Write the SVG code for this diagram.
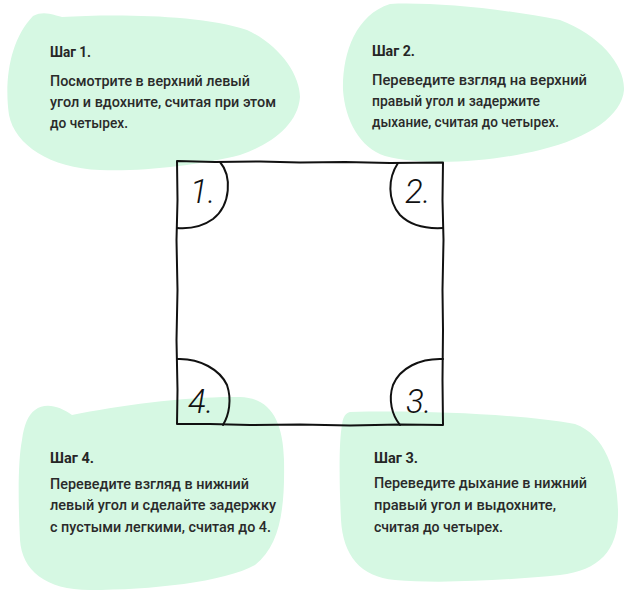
<svg xmlns="http://www.w3.org/2000/svg" width="627" height="593" viewBox="0 0 627 593">
<style>
.blob{fill:#d6f8e3;stroke:none}
.h{font-family:Roboto,"Noto Sans","Liberation Sans",sans-serif;font-size:15.5px;font-weight:700;fill:#262626}
.t{font-family:Roboto,"Noto Sans","Liberation Sans",sans-serif;font-size:15px;font-weight:500;fill:#2a2a2a}
.ln{fill:none;stroke:#111;stroke-width:2;stroke-linecap:round;stroke-linejoin:round}
.num{font-family:Roboto,"Open Sans","DejaVu Sans",sans-serif;font-size:33px;font-weight:300;font-style:italic;fill:#111}
</style>
<rect width="627" height="593" fill="#fff"/>
<g id="step1">
<path class="blob" d="M33,16 C45,10 55,16 62,17 C110,14 200,14 247,30 C280,45 300,75 300,97 C298,125 270,145 240,155 C200,165 140,172 100,170 C50,168 15,145 9,115 C4,80 10,40 33,16 Z"/>
<text class="h" x="50" y="57" textLength="41" lengthAdjust="spacingAndGlyphs">Шаг 1.</text>
<text class="t" x="50" y="86" textLength="200" lengthAdjust="spacingAndGlyphs">Посмотрите в верхний левый</text>
<text class="t" x="50" y="107" textLength="226" lengthAdjust="spacingAndGlyphs">угол и вдохните, считая при этом</text>
<text class="t" x="50" y="128" textLength="78" lengthAdjust="spacingAndGlyphs">до четырех.</text>
</g>
<g id="step2">
<path class="blob" d="M390,4 C430,2 500,8 560,20 C600,35 625,65 624,90 C622,115 590,138 540,150 C500,160 430,168 385,156 C360,148 345,120 343,90 C342,55 355,15 390,4 Z"/>
<text class="h" x="372" y="56" textLength="43" lengthAdjust="spacingAndGlyphs">Шаг 2.</text>
<text class="t" x="372" y="85" textLength="215" lengthAdjust="spacingAndGlyphs">Переведите взгляд на верхний</text>
<text class="t" x="372" y="106" textLength="168" lengthAdjust="spacingAndGlyphs">правый угол и задержите</text>
<text class="t" x="372" y="127" textLength="187" lengthAdjust="spacingAndGlyphs">дыхание, считая до четырех.</text>
</g>
<g id="step4">
<path class="blob" d="M35,410 C45,402 60,406 72,415 C120,405 190,396 240,397 C270,398 283,420 284,460 C285,510 280,545 255,565 C225,582 150,590 90,590 C45,590 22,570 20,540 C18,500 18,460 22,440 C24,425 28,415 35,410 Z"/>
<text class="h" x="50" y="463" textLength="44" lengthAdjust="spacingAndGlyphs">Шаг 4.</text>
<text class="t" x="50" y="489" textLength="199" lengthAdjust="spacingAndGlyphs">Переведите взгляд в нижний</text>
<text class="t" x="50" y="510" textLength="226" lengthAdjust="spacingAndGlyphs">левый угол и сделайте задержку</text>
<text class="t" x="50" y="532" textLength="221" lengthAdjust="spacingAndGlyphs">с пустыми легкими, считая до 4.</text>
</g>
<g id="step3">
<path class="blob" d="M350,412 C420,410 520,414 575,424 C605,435 617,470 618,510 C619,550 600,570 560,575 C510,580 440,584 395,580 C360,577 343,555 341,520 C339,480 339,440 342,425 C343,416 346,413 350,412 Z"/>
<text class="h" x="374" y="463" textLength="44" lengthAdjust="spacingAndGlyphs">Шаг 3.</text>
<text class="t" x="374" y="488" textLength="213" lengthAdjust="spacingAndGlyphs">Переведите дыхание в нижний</text>
<text class="t" x="374" y="510" textLength="182" lengthAdjust="spacingAndGlyphs">правый угол и выдохните,</text>
<text class="t" x="374" y="532" textLength="129" lengthAdjust="spacingAndGlyphs">считая до четырех.</text>
</g>
<g id="frame">
<path class="ln" d="M177,161 L215,162 L260,161.5 L300,162.5 L345,162 L390,163 L443,162.5 L442.5,200 L443.5,240 L442.5,290 L443,330 L442.5,380 L443,425 L400,424.5 L350,425.5 L300,424.5 L250,425 L210,424 L177,424 L177.5,390 L176.5,340 L177.5,290 L176.5,240 L177.5,200 Z"/>
</g>
<g id="corner1">
<path class="ln" d="M220,162 C232,176 231,205 213,219 C202,227 190,229 177,228"/>
<text class="num" x="190" y="203">1.</text>
</g>
<g id="corner2">
<path class="ln" d="M398,163 C388,178 387,200 400,215 C410,225 425,229 443,228"/>
<text class="num" x="405" y="203">2.</text>
</g>
<g id="corner3">
<path class="ln" d="M443,359 C420,358 400,368 393,385 C388,400 392,415 400,425"/>
<text class="num" x="406" y="413">3.</text>
</g>
<g id="corner4">
<path class="ln" d="M177,359 C200,358 220,370 227,385 C232,400 229,415 223,425"/>
<text class="num" x="188" y="413">4.</text>
</g>
</svg>
